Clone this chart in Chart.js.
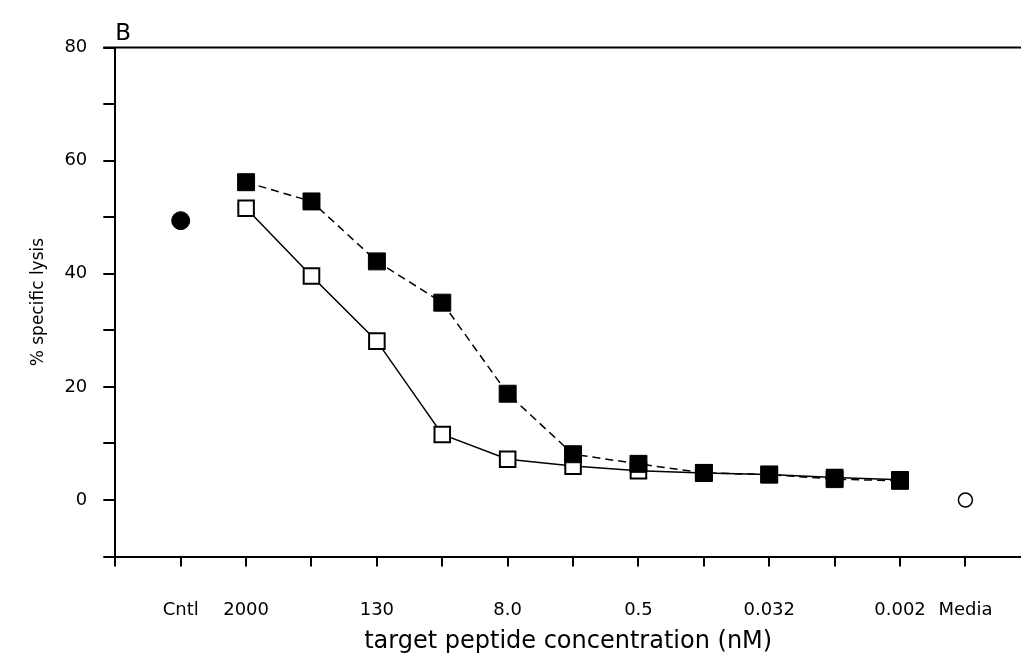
<!DOCTYPE html>
<html lang="en">

<head>
    <meta charset="UTF-8">
    <title>% specific lysis</title>
    <style>
        body {
            margin: 0;
            padding: 0;
            background-color: #ffffff;
        }

        .chart-container {
            position: relative;
            width: 1021px;
            height: 669px;
        }
    </style>
</head>

<body>

    <div class="chart-container">
        <canvas id="lysisChart"></canvas>
    </div>

    <script src="https://cdn.jsdelivr.net/npm/chart.js"></script>

    <script>
        // Tick labels on the x axis (one per position, blank where unlabeled)
        const tickLabels = ['', 'Cntl', '2000', '', '130', '', '8.0', '', '0.5', '', '0.032', '', '0.002', 'Media'];

        // Positions of the dilution series on the x axis
        const dilutionPos = [2, 3, 4, 5, 6, 7, 8, 9, 10, 11, 12];

        // % specific lysis
        const filledLysis = [56.2, 52.8, 42.2, 34.9, 18.8, 8.1, 6.4, 4.8, 4.5, 3.7, 3.4];
        const openLysis = [51.6, 39.6, 28.1, 11.6, 7.2, 6.0, 5.2, 4.8, 4.5, 4.0, 3.6];
        const cntlLysis = 49.4;
        const mediaLysis = 0;

        const toPoints = (xs, ys) => xs.map((x, i) => ({ x: x, y: ys[i] }));

        // Linha no topo da área do gráfico
        const topLine = {
            id: 'topLine',
            afterDraw(chart) {
                const { ctx, chartArea } = chart;
                ctx.save();
                ctx.strokeStyle = '#000';
                ctx.lineWidth = 2;
                ctx.beginPath();
                ctx.moveTo(chartArea.left - 12, chartArea.top);
                ctx.lineTo(chart.width, chartArea.top);
                ctx.stroke();
                ctx.restore();
            }
        };

        const fontFamily = '"DejaVu Sans", "Liberation Sans", Arial, sans-serif';

        new Chart(document.getElementById('lysisChart').getContext('2d'), {
            type: 'scatter',
            data: {
                datasets: [
                    {
                        data: toPoints(dilutionPos, filledLysis),
                        showLine: true,
                        borderColor: '#000',
                        borderWidth: 1.5,
                        borderDash: [8, 5],
                        pointStyle: 'rect',
                        pointRadius: 12,
                        pointBackgroundColor: '#000',
                        pointBorderColor: '#000',
                        pointBorderWidth: 1
                    },
                    {
                        data: toPoints(dilutionPos, openLysis),
                        showLine: true,
                        borderColor: '#000',
                        borderWidth: 1.5,
                        pointStyle: 'rect',
                        pointRadius: 11,
                        pointBackgroundColor: '#fff',
                        pointBorderColor: '#000',
                        pointBorderWidth: 2
                    },
                    {
                        data: [{ x: 1, y: cntlLysis }],
                        pointStyle: 'circle',
                        pointRadius: 9,
                        pointBackgroundColor: '#000',
                        pointBorderColor: '#000'
                    },
                    {
                        data: [{ x: 13, y: mediaLysis }],
                        pointStyle: 'circle',
                        pointRadius: 7,
                        pointBackgroundColor: '#fff',
                        pointBorderColor: '#000',
                        pointBorderWidth: 1.5
                    }
                ]
            },
            options: {
                responsive: true,
                maintainAspectRatio: false,
                animation: false,
                layout: {
                    autoPadding: false,
                    padding: { left: 28, right: 0, top: 0, bottom: 13 }
                },
                plugins: {
                    legend: { display: false },
                    tooltip: { enabled: false },
                    title: {
                        display: true,
                        text: 'B',
                        align: 'start',
                        fullSize: false,
                        color: '#000',
                        font: { family: fontFamily, size: 23, weight: 'normal' },
                        padding: { top: 20, bottom: 0 }
                    }
                },
                scales: {
                    x: {
                        type: 'linear',
                        min: 0,
                        max: 13.85,
                        // one tick per position, including Media
                        afterBuildTicks: scale => {
                            scale.ticks = tickLabels.map((_, i) => ({ value: i }));
                        },
                        // axis runs to the right edge
                        afterFit: scale => {
                            scale.paddingRight = 0;
                        },
                        grid: {
                            drawOnChartArea: false,
                            drawTicks: true,
                            tickLength: 10,
                            tickColor: '#000',
                            lineWidth: 2
                        },
                        border: { color: '#000', width: 2 },
                        ticks: {
                            autoSkip: false,
                            maxRotation: 0,
                            padding: 33,
                            color: '#000',
                            font: { family: fontFamily, size: 18 },
                            callback: value => tickLabels[value] || ''
                        },
                        title: {
                            display: true,
                            text: 'target peptide concentration (nM)',
                            color: '#000',
                            font: { family: fontFamily, size: 24 },
                            padding: { top: -27, bottom: 0 }
                        }
                    },
                    y: {
                        min: -10,
                        max: 80,
                        grid: {
                            drawOnChartArea: false,
                            drawTicks: true,
                            tickLength: 12,
                            tickColor: '#000',
                            lineWidth: 2
                        },
                        border: { color: '#000', width: 2 },
                        ticks: {
                            stepSize: 10,
                            padding: 16,
                            color: '#000',
                            font: { family: fontFamily, size: 18 },
                            callback: value => (value >= 0 && value % 20 === 0) ? value : ''
                        },
                        title: {
                            display: true,
                            text: '% specific lysis',
                            color: '#000',
                            font: { family: fontFamily, size: 17 },
                            padding: { top: 0, bottom: 0 }
                        }
                    }
                }
            },
            plugins: [topLine]
        });
    </script>

</body>

</html>
